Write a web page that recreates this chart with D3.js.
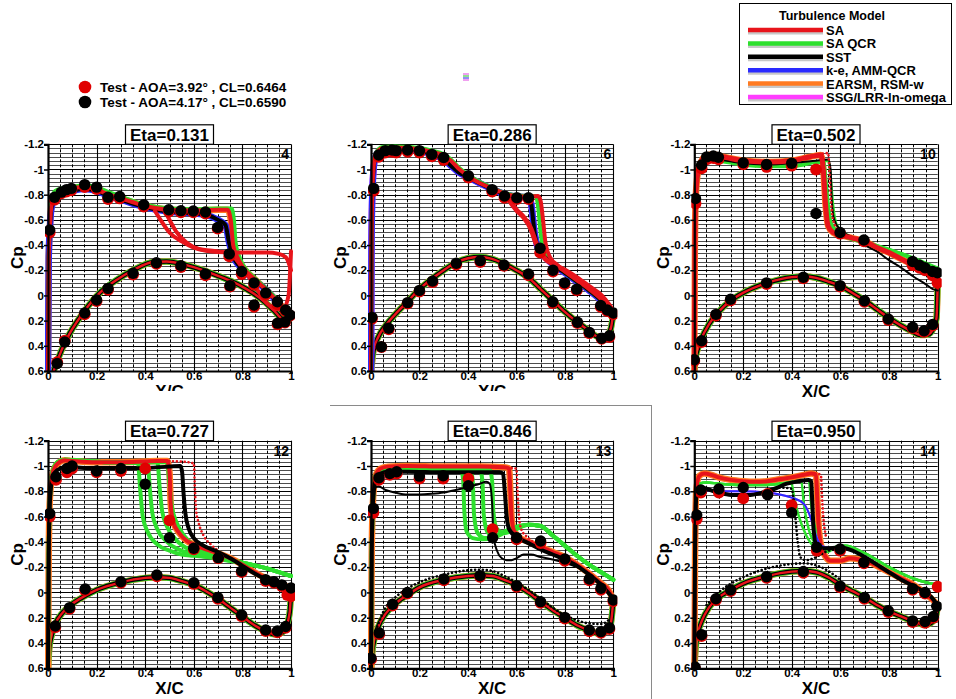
<!DOCTYPE html>
<html>
<head>
<meta charset="utf-8">
<script src="https://cdn.jsdelivr.net/npm/d3@7"></script>
<style>
  body { margin: 0; background: #fff; }
  text { font-family: "Liberation Sans", Arial, sans-serif; font-weight: bold; }
</style>
</head>
<body>
<div id="chart"></div>
<script>
// ---- labels ----
var etaLabels = ["Eta=0.131", "Eta=0.286", "Eta=0.502", "Eta=0.727", "Eta=0.846", "Eta=0.950"];
var stationLabels = ["4", "6", "10", "12", "13", "14"];
var cpTicks = [-1.2, -1, -0.8, -0.6, -0.4, -0.2, 0, 0.2, 0.4, 0.6];
var cpTickLabels = ["-1.2", "-1", "-0.8", "-0.6", "-0.4", "-0.2", "0", "0.2", "0.4", "0.6"];
var xcTicks = [0, 0.2, 0.4, 0.6, 0.8, 1];
var xcTickLabels = ["0", "0.2", "0.4", "0.6", "0.8", "1"];
var modelNames = ["SA", "SA QCR", "SST", "k-e, AMM-QCR", "EARSM, RSM-w", "SSG/LRR-ln-omega"];
var testNames = ["Test - AOA=3.92\u00b0 , CL=0.6464", "Test - AOA=4.17\u00b0 , CL=0.6590"];

// ---- Eta=0.131 ----
var p1_SA_up = [[0,0.6],[0.003,-0.3],[0.008,-0.55],[0.015,-0.72],[0.03,-0.79],[0.06,-0.83],[0.1,-0.85],[0.15,-0.86],[0.2,-0.84],[0.25,-0.8],[0.3,-0.77],[0.35,-0.74],[0.4,-0.71],[0.5,-0.68],[0.6,-0.675],[0.7,-0.68],[0.74,-0.68],[0.752,-0.6],[0.762,-0.4],[0.78,-0.3],[0.8,-0.23],[0.85,-0.13],[0.9,-0.04],[0.95,0.06],[0.98,0.12],[1,0.16]];
var p1_QCR_up = [[0,0.6],[0.003,-0.3],[0.008,-0.58],[0.015,-0.76],[0.03,-0.83],[0.06,-0.85],[0.1,-0.86],[0.15,-0.875],[0.2,-0.86],[0.25,-0.82],[0.3,-0.785],[0.4,-0.72],[0.5,-0.69],[0.6,-0.685],[0.7,-0.69],[0.755,-0.69],[0.765,-0.6],[0.772,-0.42],[0.785,-0.32],[0.8,-0.25],[0.85,-0.14],[0.9,-0.05],[0.95,0.05],[0.98,0.12],[1,0.17]];
var p1_SST_up = [[0,0.6],[0.003,-0.3],[0.008,-0.54],[0.015,-0.7],[0.03,-0.77],[0.06,-0.81],[0.1,-0.83],[0.15,-0.845],[0.2,-0.83],[0.25,-0.79],[0.3,-0.76],[0.4,-0.7],[0.5,-0.665],[0.6,-0.65],[0.65,-0.64],[0.7,-0.6],[0.73,-0.56],[0.745,-0.42],[0.76,-0.32],[0.8,-0.21],[0.85,-0.12],[0.9,-0.04],[0.95,0.07],[0.98,0.14],[1,0.16]];
var p1_SA_sep1 = [[0.44,-0.67],[0.47,-0.58],[0.5,-0.5],[0.55,-0.43],[0.6,-0.38],[0.65,-0.355],[0.7,-0.345],[0.8,-0.34],[0.9,-0.34],[0.95,-0.33],[0.98,-0.3],[1.0,-0.2]];
var p1_SA_sep2 = [[0.48,-0.67],[0.5,-0.6],[0.53,-0.5],[0.57,-0.42],[0.62,-0.37],[0.7,-0.35],[0.75,-0.33],[0.8,-0.22],[0.85,-0.08],[0.9,0.06],[0.94,0.11],[0.97,0.1],[0.99,0.0],[1.0,-0.35]];
var p1_lower = [[0.015,0.65],[0.04,0.51],[0.076,0.35],[0.144,0.14],[0.213,-0.02],[0.28,-0.12],[0.35,-0.2],[0.433,-0.265],[0.488,-0.27],[0.57,-0.24],[0.694,-0.16],[0.79,-0.08],[0.872,0.02],[0.93,0.12],[0.965,0.19],[0.985,0.2],[1.0,0.15]];
var p1_test417 = [[0.007,-0.52],[0.027,-0.78],[0.055,-0.82],[0.076,-0.84],[0.096,-0.85],[0.151,-0.88],[0.2,-0.86],[0.247,-0.78],[0.295,-0.785],[0.394,-0.72],[0.497,-0.68],[0.547,-0.673],[0.598,-0.67],[0.648,-0.663],[0.698,-0.54],[0.746,-0.33],[0.797,-0.19],[0.848,-0.1],[0.896,-0.02],[0.944,0.05],[0.978,0.115],[0.996,0.155],
  [0.038,0.54],[0.069,0.37],[0.151,0.14],[0.2,0.036],[0.247,-0.056],[0.35,-0.176],[0.446,-0.26],[0.547,-0.236],[0.648,-0.17],[0.749,-0.078],[0.848,0.076],[0.945,0.22],[0.975,0.21]];
var p1_test392 = [[0.007,-0.5],[0.027,-0.76],[0.055,-0.81],[0.076,-0.825],[0.096,-0.835],[0.151,-0.86],[0.2,-0.845],[0.247,-0.765],[0.295,-0.77],[0.394,-0.705],[0.497,-0.665],[0.547,-0.66],[0.598,-0.66],[0.648,-0.65],[0.698,-0.53],[0.746,-0.31],[0.797,-0.17],[0.848,-0.085],[0.896,-0.005],[0.944,0.07],[0.978,0.125],[0.996,0.16],
  [0.038,0.53],[0.069,0.36],[0.151,0.15],[0.2,0.045],[0.247,-0.045],[0.35,-0.165],[0.446,-0.25],[0.547,-0.225],[0.648,-0.16],[0.749,-0.07],[0.848,0.09],[0.945,0.23],[0.975,0.215]];

// ---- Eta=0.286 ----
var p2_SA_up = [[0,0.6],[0.002,-0.4],[0.006,-0.85],[0.015,-1.08],[0.03,-1.15],[0.05,-1.17],[0.1,-1.175],[0.15,-1.17],[0.2,-1.16],[0.25,-1.14],[0.3,-1.11],[0.33,-1.07],[0.36,-1.01],[0.4,-0.95],[0.45,-0.89],[0.5,-0.85],[0.55,-0.81],[0.6,-0.79],[0.65,-0.785],[0.69,-0.79],[0.7,-0.75],[0.71,-0.6],[0.72,-0.42],[0.74,-0.3],[0.77,-0.24],[0.8,-0.19],[0.85,-0.12],[0.9,-0.05],[0.95,0.03],[0.98,0.09],[1.0,0.14]];
var p2_SA_sep = [[0.56,-0.79],[0.58,-0.73],[0.6,-0.68],[0.63,-0.62],[0.66,-0.53],[0.68,-0.42],[0.7,-0.34],[0.72,-0.29],[0.75,-0.25],[0.8,-0.2],[0.85,-0.14],[0.9,-0.07],[0.95,0.0],[0.98,0.07],[1.0,0.13]];
var p2_QCR_up = [[0,0.6],[0.002,-0.4],[0.006,-0.87],[0.015,-1.1],[0.03,-1.16],[0.05,-1.18],[0.1,-1.185],[0.15,-1.18],[0.2,-1.17],[0.25,-1.15],[0.3,-1.12],[0.33,-1.08],[0.36,-1.02],[0.4,-0.96],[0.45,-0.9],[0.5,-0.855],[0.55,-0.815],[0.6,-0.795],[0.65,-0.79],[0.68,-0.79],[0.69,-0.7],[0.7,-0.5],[0.71,-0.38],[0.73,-0.3],[0.77,-0.23],[0.8,-0.18],[0.85,-0.11],[0.9,-0.04],[0.95,0.04],[0.98,0.1],[1.0,0.15]];
var p2_SST_up = [[0,0.6],[0.002,-0.4],[0.006,-0.84],[0.015,-1.07],[0.03,-1.14],[0.05,-1.16],[0.1,-1.165],[0.15,-1.16],[0.2,-1.15],[0.25,-1.12],[0.3,-1.08],[0.33,-1.03],[0.36,-0.98],[0.4,-0.94],[0.45,-0.89],[0.5,-0.845],[0.55,-0.805],[0.6,-0.785],[0.65,-0.78],[0.66,-0.74],[0.675,-0.5],[0.69,-0.37],[0.72,-0.3],[0.76,-0.23],[0.8,-0.18],[0.85,-0.11],[0.9,-0.04],[0.95,0.04],[0.98,0.1],[1.0,0.14]];
var p2_lower = [[0,0.62],[0.01,0.44],[0.03,0.33],[0.06,0.24],[0.1,0.15],[0.15,0.05],[0.2,-0.05],[0.25,-0.13],[0.3,-0.2],[0.35,-0.26],[0.4,-0.295],[0.45,-0.305],[0.5,-0.29],[0.55,-0.25],[0.6,-0.2],[0.65,-0.14],[0.7,-0.05],[0.75,0.04],[0.8,0.13],[0.85,0.21],[0.9,0.28],[0.94,0.33],[0.97,0.33],[0.99,0.26],[1.0,0.14]];
var p2_test417 = [[0.011,-0.85],[0.032,-1.115],[0.059,-1.15],[0.087,-1.155],[0.104,-1.15],[0.151,-1.155],[0.2,-1.15],[0.251,-1.12],[0.3,-1.095],[0.402,-0.95],[0.5,-0.84],[0.551,-0.79],[0.602,-0.776],[0.65,-0.776],[0.698,-0.375],[0.751,-0.2],[0.799,-0.1],[0.849,-0.05],[0.948,0.08],[0.975,0.116],[1.0,0.14],
  [0.004,0.174],[0.043,0.407],[0.073,0.26],[0.151,0.057],[0.2,-0.04],[0.254,-0.114],[0.352,-0.255],[0.451,-0.276],[0.549,-0.242],[0.65,-0.17],[0.75,0.05],[0.852,0.213],[0.901,0.293],[0.952,0.34],[0.984,0.32]];
var p2_test392 = [[0.011,-0.83],[0.032,-1.1],[0.059,-1.135],[0.087,-1.14],[0.104,-1.135],[0.151,-1.14],[0.2,-1.135],[0.251,-1.105],[0.3,-1.075],[0.402,-0.935],[0.5,-0.825],[0.551,-0.775],[0.602,-0.765],[0.65,-0.765],[0.698,-0.34],[0.751,-0.19],[0.799,-0.09],[0.849,-0.04],[0.948,0.09],[0.975,0.125],[1.0,0.15],
  [0.004,0.185],[0.043,0.41],[0.073,0.27],[0.151,0.065],[0.2,-0.03],[0.254,-0.105],[0.352,-0.245],[0.451,-0.265],[0.549,-0.235],[0.65,-0.16],[0.75,0.06],[0.852,0.22],[0.901,0.3],[0.952,0.345],[0.984,0.33]];

// ---- Eta=0.502 ----
var p3_SA_up = [[0,0.6],[0.002,-0.3],[0.006,-0.78],[0.015,-0.98],[0.03,-1.07],[0.05,-1.11],[0.08,-1.12],[0.12,-1.1],[0.2,-1.07],[0.3,-1.06],[0.4,-1.07],[0.45,-1.09],[0.5,-1.11],[0.52,-1.115],[0.53,-1.0],[0.54,-0.7],[0.55,-0.55],[0.57,-0.5],[0.6,-0.48],[0.65,-0.455],[0.7,-0.43],[0.75,-0.38],[0.8,-0.34],[0.85,-0.29],[0.9,-0.24],[0.95,-0.19],[0.98,-0.15],[1.0,-0.1]];
var p3_SA2_up = [[0.45,-1.09],[0.5,-1.115],[0.55,-1.13],[0.555,-1.0],[0.56,-0.8],[0.57,-0.6],[0.6,-0.5]];
var p3_QCR_up = [[0,0.6],[0.002,-0.3],[0.006,-0.76],[0.015,-0.96],[0.03,-1.04],[0.05,-1.08],[0.1,-1.07],[0.2,-1.04],[0.3,-1.025],[0.4,-1.025],[0.45,-1.04],[0.5,-1.06],[0.53,-1.06],[0.54,-0.9],[0.55,-0.7],[0.56,-0.58],[0.58,-0.52],[0.62,-0.47],[0.7,-0.42],[0.8,-0.36],[0.85,-0.33],[0.9,-0.29],[0.95,-0.25],[1.0,-0.2]];
var p3_QCR2_up = [[0.45,-1.04],[0.5,-1.06],[0.55,-1.07],[0.56,-0.95],[0.57,-0.72],[0.585,-0.56],[0.62,-0.49],[0.7,-0.43],[0.8,-0.37],[0.9,-0.3],[1.0,-0.22]];
var p3_SST_up = [[0,0.6],[0.003,-0.5],[0.01,-0.9],[0.03,-1.05],[0.05,-1.09],[0.1,-1.08],[0.2,-1.05],[0.3,-1.04],[0.4,-1.05],[0.5,-1.07],[0.55,-1.08],[0.56,-1.0],[0.565,-0.75],[0.575,-0.6],[0.6,-0.52],[0.65,-0.46],[0.7,-0.4],[0.75,-0.35],[0.8,-0.28],[0.85,-0.22],[0.9,-0.15],[0.95,-0.09],[0.98,-0.05],[1.0,-0.04]];
var p3_lower = [[0,0.62],[0.005,0.5],[0.015,0.42],[0.03,0.34],[0.06,0.23],[0.1,0.13],[0.15,0.04],[0.2,-0.02],[0.3,-0.1],[0.4,-0.145],[0.45,-0.15],[0.5,-0.14],[0.55,-0.11],[0.6,-0.075],[0.65,-0.02],[0.7,0.04],[0.75,0.11],[0.8,0.18],[0.85,0.24],[0.9,0.29],[0.93,0.315],[0.96,0.31],[0.98,0.27],[0.995,0.18],[1.0,-0.1]];
var p3_test417 = [[0.005,-0.77],[0.03,-1.036],[0.051,-1.1],[0.078,-1.107],[0.099,-1.097],[0.201,-1.054],[0.297,-1.04],[0.4,-1.05],[0.5,-0.65],[0.599,-0.5],[0.697,-0.44],[0.897,-0.27],[0.925,-0.24],[0.948,-0.22],[0.979,-0.19],[0.999,-0.18],
  [0.0,0.51],[0.03,0.36],[0.089,0.15],[0.149,0.03],[0.297,-0.1],[0.448,-0.144],[0.599,-0.078],[0.699,0.042],[0.797,0.187],[0.897,0.253],[0.944,0.28],[0.979,0.23]];
var p3_test392 = [[0.005,-0.73],[0.03,-1.01],[0.051,-1.08],[0.078,-1.09],[0.099,-1.08],[0.201,-1.04],[0.297,-1.02],[0.4,-1.03],[0.5,-1.0],[0.599,-0.49],[0.697,-0.43],[0.897,-0.24],[0.925,-0.22],[0.948,-0.2],[0.979,-0.16],[0.999,-0.1],
  [0.0,0.52],[0.03,0.37],[0.089,0.16],[0.149,0.04],[0.297,-0.09],[0.448,-0.135],[0.599,-0.07],[0.699,0.05],[0.797,0.195],[0.897,0.26],[0.944,0.29],[0.979,0.24]];

// ---- Eta=0.727 ----
var p4_SA_up = [[0,0.6],[0.003,-0.3],[0.008,-0.75],[0.02,-0.95],[0.04,-1.02],[0.07,-1.045],[0.1,-1.04],[0.2,-1.03],[0.3,-1.03],[0.4,-1.035],[0.45,-1.04],[0.49,-1.04],[0.5,-0.95],[0.505,-0.7],[0.515,-0.56],[0.54,-0.47],[0.57,-0.41],[0.6,-0.38],[0.65,-0.34],[0.7,-0.31],[0.75,-0.27],[0.8,-0.22],[0.85,-0.16],[0.9,-0.11],[0.95,-0.07],[0.98,-0.05],[1.0,-0.03]];
var p4_SA2_up = [[0.45,-1.04],[0.55,-1.035],[0.6,-1.02],[0.605,-0.8],[0.61,-0.64],[0.62,-0.55],[0.64,-0.45],[0.67,-0.38],[0.7,-0.33]];
var p4_QCR_front = [[0,0.6],[0.003,-0.3],[0.008,-0.75],[0.02,-0.96],[0.04,-1.03],[0.07,-1.05],[0.15,-1.04],[0.25,-1.03],[0.33,-1.03]];
var p4_QCR_mid1 = [[0.37,-1.02],[0.38,-0.8],[0.39,-0.6],[0.41,-0.48],[0.45,-0.38],[0.5,-0.33],[0.55,-0.3],[0.6,-0.29]];
var p4_QCR_mid2 = [[0.41,-1.02],[0.42,-0.8],[0.43,-0.62],[0.45,-0.5],[0.49,-0.4],[0.55,-0.33],[0.6,-0.3]];
var p4_QCR_mid3 = [[0.45,-1.03],[0.46,-0.82],[0.47,-0.64],[0.49,-0.52],[0.53,-0.41],[0.58,-0.34],[0.62,-0.31]];
var p4_QCR_mid4 = [[0.49,-1.03],[0.5,-0.85],[0.51,-0.68],[0.53,-0.55],[0.56,-0.45],[0.6,-0.37],[0.64,-0.32]];
var p4_QCR_rear = [[0.7,-0.27],[0.8,-0.235],[0.9,-0.19],[0.95,-0.16],[1.0,-0.13]];
var p4_SST_up = [[0,0.6],[0.003,-0.3],[0.008,-0.72],[0.02,-0.92],[0.04,-0.97],[0.07,-0.99],[0.1,-0.99],[0.2,-0.98],[0.3,-0.98],[0.4,-0.985],[0.5,-0.995],[0.545,-1.0],[0.552,-0.95],[0.558,-0.78],[0.565,-0.63],[0.58,-0.5],[0.6,-0.43],[0.64,-0.37],[0.7,-0.32],[0.75,-0.27],[0.8,-0.21],[0.85,-0.15],[0.9,-0.1],[0.95,-0.06],[1.0,-0.04]];
var p4_lower = [[0,0.62],[0.005,0.45],[0.015,0.34],[0.03,0.25],[0.06,0.16],[0.1,0.09],[0.15,0.03],[0.2,-0.02],[0.3,-0.08],[0.4,-0.115],[0.45,-0.12],[0.5,-0.115],[0.55,-0.09],[0.6,-0.06],[0.65,-0.01],[0.7,0.05],[0.75,0.12],[0.8,0.19],[0.85,0.26],[0.9,0.31],[0.93,0.33],[0.96,0.32],[0.98,0.27],[0.995,0.15],[1.0,0.0]];
var p4_test417 = [[0.007,-0.625],[0.033,-0.915],[0.078,-0.98],[0.099,-1.0],[0.2,-0.96],[0.3,-0.98],[0.4,-0.855],[0.5,-0.433],[0.6,-0.35],[0.701,-0.275],[0.797,-0.17],[0.896,-0.1],[0.93,-0.085],[0.962,-0.06],[1.0,-0.035],
  [0.03,0.265],[0.089,0.12],[0.153,-0.027],[0.3,-0.085],[0.448,-0.138],[0.6,-0.077],[0.699,0.04],[0.797,0.178],[0.896,0.297],[0.944,0.305],[0.978,0.27]];
var p4_test392 = [[0.007,-0.6],[0.033,-0.89],[0.078,-0.95],[0.099,-0.98],[0.2,-0.95],[0.3,-0.96],[0.4,-0.98],[0.5,-0.57],[0.6,-0.34],[0.701,-0.27],[0.797,-0.16],[0.896,-0.09],[0.93,-0.075],[0.962,-0.05],[0.985,0.02],[1.0,0.03],
  [0.03,0.275],[0.089,0.13],[0.153,-0.017],[0.3,-0.075],[0.448,-0.128],[0.6,-0.067],[0.699,0.05],[0.797,0.188],[0.896,0.305],[0.944,0.315],[0.978,0.28]];

// ---- Eta=0.846 ----
var p5_SA_up = [[0,0.6],[0.003,-0.3],[0.008,-0.72],[0.02,-0.93],[0.04,-0.98],[0.07,-0.995],[0.15,-1.0],[0.3,-0.995],[0.45,-0.995],[0.55,-0.99],[0.57,-0.98],[0.575,-0.8],[0.58,-0.6],[0.59,-0.49],[0.61,-0.44],[0.65,-0.4],[0.7,-0.36],[0.75,-0.32],[0.8,-0.28],[0.85,-0.22],[0.9,-0.15],[0.95,-0.07],[0.98,-0.02],[1.0,0.06]];
var p5_SA2_up = [[0.5,-0.99],[0.6,-0.98],[0.605,-0.8],[0.61,-0.62],[0.62,-0.5],[0.65,-0.43],[0.7,-0.37]];
var p5_QCR_front = [[0,0.6],[0.003,-0.3],[0.008,-0.72],[0.02,-0.93],[0.04,-0.97],[0.07,-0.98],[0.15,-0.98],[0.25,-0.975],[0.33,-0.97]];
var p5_QCR_mid1 = [[0.37,-0.97],[0.38,-0.9],[0.385,-0.65],[0.395,-0.48],[0.42,-0.43],[0.46,-0.42],[0.5,-0.43],[0.55,-0.48],[0.6,-0.52]];
var p5_QCR_mid2 = [[0.41,-0.97],[0.42,-0.88],[0.425,-0.62],[0.44,-0.47],[0.47,-0.43],[0.5,-0.435],[0.55,-0.48],[0.6,-0.515]];
var p5_QCR_mid3 = [[0.45,-0.97],[0.46,-0.88],[0.465,-0.62],[0.48,-0.48],[0.51,-0.44],[0.55,-0.47],[0.6,-0.51]];
var p5_QCR_mid4 = [[0.49,-0.97],[0.5,-0.88],[0.505,-0.64],[0.52,-0.5],[0.55,-0.47],[0.6,-0.5]];
var p5_QCR_rear = [[0.65,-0.535],[0.7,-0.525],[0.75,-0.45],[0.8,-0.37],[0.85,-0.29],[0.9,-0.22],[0.95,-0.16],[1.0,-0.1]];
var p5_SST_up = [[0,0.6],[0.003,-0.3],[0.008,-0.7],[0.02,-0.9],[0.04,-0.94],[0.07,-0.955],[0.15,-0.955],[0.3,-0.95],[0.45,-0.95],[0.53,-0.95],[0.545,-0.94],[0.552,-0.8],[0.56,-0.6],[0.57,-0.5],[0.6,-0.44],[0.65,-0.39],[0.7,-0.34],[0.75,-0.3],[0.8,-0.26],[0.85,-0.21],[0.9,-0.14],[0.95,-0.06],[1.0,0.05]];
var p5_SST2_up = [[0.005,-0.6],[0.015,-0.82],[0.03,-0.84],[0.06,-0.81],[0.1,-0.79],[0.15,-0.775],[0.2,-0.775],[0.25,-0.78],[0.3,-0.79],[0.35,-0.81],[0.4,-0.835],[0.45,-0.86],[0.475,-0.875],[0.49,-0.86],[0.5,-0.7],[0.505,-0.45],[0.52,-0.33],[0.54,-0.27],[0.56,-0.255],[0.58,-0.255],[0.6,-0.27],[0.63,-0.3],[0.66,-0.3],[0.7,-0.28],[0.75,-0.26],[0.8,-0.235],[0.85,-0.2],[0.9,-0.15]];
var p5_SST2_low = [[0.02,0.3],[0.06,0.12],[0.1,0.04],[0.2,-0.08],[0.3,-0.14],[0.4,-0.175],[0.45,-0.18],[0.5,-0.17],[0.55,-0.13],[0.6,-0.08],[0.65,-0.02],[0.7,0.05],[0.75,0.12],[0.8,0.18],[0.85,0.22],[0.9,0.245],[0.95,0.25],[0.98,0.22]];
var p5_lower = [[0,0.62],[0.005,0.48],[0.015,0.36],[0.03,0.27],[0.06,0.17],[0.1,0.09],[0.15,0.02],[0.2,-0.04],[0.3,-0.1],[0.4,-0.13],[0.45,-0.135],[0.5,-0.13],[0.55,-0.1],[0.6,-0.06],[0.65,0.0],[0.7,0.07],[0.75,0.14],[0.8,0.2],[0.85,0.26],[0.9,0.3],[0.94,0.325],[0.97,0.31],[0.99,0.24],[1.0,0.06]];
var p5_test417 = [[0.01,-0.665],[0.033,-0.907],[0.078,-0.94],[0.106,-0.955],[0.2,-0.92],[0.298,-0.923],[0.402,-0.844],[0.502,-0.433],[0.601,-0.433],[0.7,-0.407],[0.8,-0.264],[0.901,-0.106],[0.949,-0.033],[1.0,0.06],
  [0.0,0.52],[0.034,0.32],[0.089,0.094],[0.15,0.0],[0.301,-0.106],[0.45,-0.133],[0.601,-0.054],[0.7,0.073],[0.8,0.197],[0.901,0.297],[0.949,0.31],[0.984,0.279]];
var p5_test392 = [[0.01,-0.63],[0.033,-0.89],[0.078,-0.93],[0.106,-0.94],[0.2,-0.9],[0.298,-0.9],[0.402,-0.9],[0.502,-0.5],[0.601,-0.42],[0.7,-0.39],[0.8,-0.25],[0.901,-0.095],[0.949,-0.02],[1.0,0.07],
  [0.0,0.53],[0.034,0.33],[0.089,0.104],[0.15,0.01],[0.301,-0.096],[0.45,-0.123],[0.601,-0.044],[0.7,0.083],[0.8,0.207],[0.901,0.307],[0.949,0.32],[0.984,0.289]];

// ---- Eta=0.950 ----
var p6_SA_up = [[0,0.6],[0.003,-0.3],[0.008,-0.8],[0.02,-0.92],[0.04,-0.94],[0.07,-0.93],[0.1,-0.91],[0.15,-0.89],[0.2,-0.88],[0.25,-0.875],[0.3,-0.88],[0.35,-0.895],[0.4,-0.91],[0.45,-0.93],[0.48,-0.94],[0.5,-0.93],[0.505,-0.75],[0.51,-0.55],[0.52,-0.38],[0.54,-0.28],[0.56,-0.25],[0.6,-0.25],[0.64,-0.27],[0.68,-0.26],[0.72,-0.24],[0.76,-0.2],[0.8,-0.16],[0.85,-0.11],[0.9,-0.06],[0.95,0.01],[0.98,0.06],[1.0,0.1]];
var p6_SA2_up = [[0.45,-0.93],[0.5,-0.94],[0.52,-0.93],[0.525,-0.75],[0.53,-0.6],[0.54,-0.45]];
var p6_QCR_front = [[0,0.6],[0.003,-0.3],[0.008,-0.78],[0.02,-0.86],[0.05,-0.87],[0.1,-0.86],[0.2,-0.85],[0.3,-0.85],[0.35,-0.86]];
var p6_QCR_mid1 = [[0.4,-0.86],[0.41,-0.75],[0.43,-0.6],[0.46,-0.45],[0.5,-0.35],[0.55,-0.32]];
var p6_QCR_mid2 = [[0.44,-0.88],[0.45,-0.7],[0.47,-0.5],[0.5,-0.38],[0.54,-0.33]];
var p6_QCR_mid3 = [[0.47,-0.89],[0.48,-0.7],[0.5,-0.48],[0.52,-0.38],[0.55,-0.34]];
var p6_QCR_rear = [[0.58,-0.36],[0.62,-0.37],[0.7,-0.31],[0.8,-0.2],[0.9,-0.11],[0.95,-0.08],[1.0,-0.06]];
var p6_SST_up = [[0,0.6],[0.003,-0.3],[0.008,-0.75],[0.02,-0.83],[0.05,-0.82],[0.08,-0.8],[0.12,-0.78],[0.16,-0.77],[0.22,-0.77],[0.28,-0.79],[0.33,-0.82],[0.38,-0.86],[0.43,-0.88],[0.47,-0.89],[0.48,-0.88],[0.485,-0.7],[0.49,-0.5],[0.5,-0.38],[0.52,-0.35],[0.56,-0.35],[0.6,-0.355],[0.65,-0.33],[0.7,-0.28],[0.75,-0.22],[0.8,-0.16],[0.85,-0.1],[0.9,-0.05],[0.95,0.0],[0.98,0.05],[1.0,0.11]];
var p6_SST2_up = [[0.35,-0.83],[0.4,-0.82],[0.415,-0.6],[0.425,-0.4],[0.435,-0.28],[0.46,-0.255],[0.49,-0.27],[0.52,-0.3],[0.55,-0.33],[0.6,-0.34]];
var p6_SST2_low = [[0.05,0.1],[0.1,0.0],[0.2,-0.12],[0.3,-0.19],[0.4,-0.225],[0.45,-0.23],[0.5,-0.215],[0.55,-0.17],[0.6,-0.1]];
var p6_KE_up = [[0,0.6],[0.003,-0.3],[0.008,-0.75],[0.02,-0.82],[0.05,-0.81],[0.1,-0.8],[0.2,-0.8],[0.3,-0.79],[0.35,-0.775],[0.4,-0.75],[0.45,-0.7],[0.48,-0.58],[0.5,-0.45],[0.52,-0.37],[0.56,-0.35],[0.6,-0.35],[0.65,-0.33],[0.7,-0.285],[0.75,-0.225],[0.8,-0.165],[0.85,-0.105],[0.9,-0.05],[0.95,0.0],[1.0,0.1]];
var p6_lower = [[0,0.62],[0.005,0.45],[0.015,0.32],[0.03,0.23],[0.06,0.12],[0.1,0.04],[0.15,-0.02],[0.2,-0.07],[0.3,-0.13],[0.4,-0.165],[0.45,-0.17],[0.5,-0.16],[0.55,-0.12],[0.6,-0.06],[0.65,-0.01],[0.7,0.04],[0.75,0.1],[0.8,0.15],[0.85,0.19],[0.9,0.23],[0.95,0.255],[0.98,0.23],[0.995,0.17],[1.0,0.11]];
var p6_test417 = [[0.01,-0.612],[0.027,-0.81],[0.101,-0.818],[0.201,-0.83],[0.301,-0.773],[0.4,-0.63],[0.503,-0.357],[0.599,-0.343],[0.697,-0.238],[0.897,-0.03],[0.948,0.0],[0.996,0.11],
  [0.003,0.59],[0.03,0.335],[0.089,0.05],[0.149,-0.02],[0.297,-0.125],[0.448,-0.165],[0.599,-0.05],[0.699,0.04],[0.797,0.145],[0.897,0.225],[0.948,0.23],[0.982,0.19]];
var p6_test392 = [[0.01,-0.58],[0.027,-0.79],[0.101,-0.79],[0.201,-0.745],[0.301,-0.78],[0.4,-0.69],[0.503,-0.33],[0.599,-0.33],[0.697,-0.23],[0.897,-0.02],[0.948,0.01],[1.0,-0.045],
  [0.003,0.6],[0.03,0.345],[0.089,0.06],[0.149,-0.01],[0.297,-0.115],[0.448,-0.155],[0.599,-0.04],[0.699,0.05],[0.797,0.155],[0.897,0.235],[0.948,0.24],[0.982,0.2]];

// colours per model
var modelColors = ["#e8141b", "#2ee02e", "#000000", "#2b2bff", "#ff7b22", "#ff3dff"];

// curve lists per panel: [model index, data, style]
var panelCurves = [
  [[4, p1_SA_up, "w"], [3, p1_SST_up, "w"], [1, p1_QCR_up, "t"], [2, p1_SST_up, "t"], [0, p1_SA_sep1, "t"], [0, p1_SA_sep2, "t"], [0, p1_SA_up, "t"]],
  [[5, p2_SST_up, "w"], [3, p2_SST_up, "w"], [1, p2_QCR_up, "t"], [2, p2_SST_up, "t"], [0, p2_SA_sep, "b"], [0, p2_SA_up, "t"]],
  [[4, p3_SA_up, "w"], [1, p3_QCR_up, "t"], [1, p3_QCR2_up, "m"], [2, p3_SST_up, "s"], [0, p3_SA_up, "b"], [0, p3_SA2_up, "d"]],
  [[4, p4_SA_up, "w"], [1, p4_QCR_front.concat(p4_QCR_mid1, p4_QCR_rear), "t"], [1, p4_QCR_front.concat(p4_QCR_mid2, p4_QCR_rear), "t"],
   [1, p4_QCR_front.concat(p4_QCR_mid3, p4_QCR_rear), "t"], [1, p4_QCR_front.concat(p4_QCR_mid4, p4_QCR_rear), "t"],
   [0, p4_SA_up, "t"], [0, p4_SA2_up, "d"], [2, p4_SST_up, "t"]],
  [[4, p5_SA_up, "w"], [1, p5_QCR_front.concat(p5_QCR_mid1, p5_QCR_rear), "t"], [1, p5_QCR_front.concat(p5_QCR_mid2, p5_QCR_rear), "t"],
   [1, p5_QCR_front.concat(p5_QCR_mid3, p5_QCR_rear), "t"], [1, p5_QCR_front.concat(p5_QCR_mid4, p5_QCR_rear), "t"],
   [0, p5_SA_up, "t"], [0, p5_SA2_up, "d"], [2, p5_SST_up, "t"], [2, p5_SST2_up, "s"], [2, p5_SST2_low, "d"]],
  [[4, p6_SA_up, "w"], [1, p6_QCR_front.concat(p6_QCR_mid1, p6_QCR_rear), "m"], [1, p6_QCR_front.concat(p6_QCR_mid2, p6_QCR_rear), "m"],
   [1, p6_QCR_front.concat(p6_QCR_mid3, p6_QCR_rear), "m"], [0, p6_SA_up, "t"], [0, p6_SA2_up, "d"], [5, p6_KE_up, "s"], [3, p6_KE_up, "s"],
   [2, p6_SST_up, "t"], [2, p6_SST2_up, "d"], [2, p6_SST2_low, "d"]]
];
var panelLower = [p1_lower, p2_lower, p3_lower, p4_lower, p5_lower, p6_lower];
var panelTest392 = [p1_test392, p2_test392, p3_test392, p4_test392, p5_test392, p6_test392];
var panelTest417 = [p1_test417, p2_test417, p3_test417, p4_test417, p5_test417, p6_test417];

// ---- layout ----
var W = 956, H = 699;
var colL = [48, 371, 694.3], colR = [291, 613.3, 937.7];
var rowT = [144.3, 440.7], rowB = [371, 668.3];

var svg = d3.select("#chart").append("svg")
  .attr("width", W).attr("height", H)
  .style("display", "block");
svg.append("rect").attr("width", W).attr("height", H).attr("fill", "#fff");

// thin gray frame around the lower-middle tile
svg.append("line").attr("x1", 330).attr("x2", 652).attr("y1", 405.5).attr("y2", 405.5).attr("stroke", "#8a8a8a").attr("stroke-width", 1);
svg.append("line").attr("x1", 651.5).attr("x2", 651.5).attr("y1", 405).attr("y2", 699).attr("stroke", "#8a8a8a").attr("stroke-width", 1);

var strokeW = { w: 6.5, t: 4, b: 5, m: 2.5, s: 2, d: 2.6 };

for (var p = 0; p < 6; p++) {
  var col = p % 3, row = Math.floor(p / 3);
  var L = colL[col], R = colR[col], T = rowT[row], B = rowB[row];
  var x = d3.scaleLinear().domain([0, 1]).range([L, R]);
  var y = d3.scaleLinear().domain([-1.2, 0.6]).range([T, B]);
  var g = svg.append("g");

  // grid: horizontal lines, minor every 1/6 of a major step
  var hLines = d3.range(0, 55).map(function(i) { return -1.2 + i * 0.2 / 6; });
  g.selectAll(".hmin").data(hLines).enter().append("line")
    .attr("x1", L).attr("x2", R)
    .attr("y1", function(d) { return Math.round(y(d)) + 0.5; })
    .attr("y2", function(d) { return Math.round(y(d)) + 0.5; })
    .attr("stroke", function(d, i) { return i % 6 === 0 ? "#000" : "#2e2e2e"; })
    .attr("stroke-width", function(d, i) { return i % 6 === 0 ? 1.2 : 0.85; });
  // grid: vertical lines every 0.05, solid on 0.2
  var vLines = d3.range(1, 21).map(function(i) { return i * 0.05; });
  g.selectAll(".v").data(vLines).enter().append("line")
    .attr("x1", function(d) { return Math.round(x(d)) + 0.5; })
    .attr("x2", function(d) { return Math.round(x(d)) + 0.5; })
    .attr("y1", T).attr("y2", B)
    .attr("stroke", "#000")
    .attr("stroke-width", function(d, i) { return (i + 1) % 4 === 0 ? 1.1 : 1; })
    .attr("stroke-dasharray", function(d, i) { return (i + 1) % 4 === 0 ? null : "3,2"; });

  // clip
  var cid = "clip" + p;
  svg.append("clipPath").attr("id", cid).append("rect")
    .attr("x", L - 3).attr("y", T).attr("width", R - L + 7).attr("height", B - T);
  var cg = g.append("g").attr("clip-path", "url(#" + cid + ")");

  var line = d3.line().x(function(d) { return x(d[0]); }).y(function(d) { return y(d[1]); })
    .curve(d3.curveMonotoneX);

  // lower surface, layered model bundle
  var lowerLayers = [[4, 6.5], [1, 6], [2, 4.6], [0, 2.4]];
  lowerLayers.forEach(function(l) {
    cg.append("path").attr("d", line(panelLower[p]))
      .attr("fill", "none").attr("stroke", modelColors[l[0]]).attr("stroke-width", l[1])
      .attr("stroke-linejoin", "round").attr("stroke-linecap", "round");
  });

  // upper surface curves
  panelCurves[p].forEach(function(c) {
    var st = c[2];
    cg.append("path").attr("d", line(c[1]))
      .attr("fill", "none").attr("stroke", modelColors[c[0]])
      .attr("stroke-width", strokeW[st])
      .attr("stroke-dasharray", st === "d" ? "0.1,3.8" : null)
      .attr("stroke-linejoin", "round").attr("stroke-linecap", "round");
  });

  // test data
  cg.selectAll(".t392").data(panelTest392[p]).enter().append("circle")
    .attr("cx", function(d) { return x(d[0]); }).attr("cy", function(d) { return y(d[1]); })
    .attr("r", 5.9).attr("fill", "#e00000");
  cg.selectAll(".t417").data(panelTest417[p]).enter().append("circle")
    .attr("cx", function(d) { return x(d[0]); }).attr("cy", function(d) { return y(d[1]); })
    .attr("r", 5.7).attr("fill", "#000");

  // axes
  var yAxis = d3.axisLeft(y).tickValues(cpTicks).tickSize(4).tickFormat(function(d, i) { return cpTickLabels[i]; });
  var ya = g.append("g").attr("transform", "translate(" + L + ",0)").call(yAxis);
  var xAxis = d3.axisBottom(x).tickValues(xcTicks).tickSize(3).tickFormat(function(d, i) { return xcTickLabels[i]; });
  var xa = g.append("g").attr("transform", "translate(0," + B + ")").call(xAxis);
  [ya, xa].forEach(function(a) {
    a.select(".domain").attr("stroke", "#000").attr("stroke-width", 2.2);
    a.selectAll(".tick line").attr("stroke", "#000").attr("stroke-width", 1.5);
    a.selectAll(".tick text").attr("font-size", 11.5).attr("font-weight", "bold")
      .attr("font-family", "Liberation Sans, Arial, sans-serif").attr("fill", "#000");
  });
  ya.selectAll(".tick text").attr("x", -4);
  xa.selectAll(".tick text").attr("y", 1).attr("dy", "0.71em");

  // Cp label
  g.append("text").attr("transform", "translate(" + (L - 31) + "," + ((T + B) / 2) + ") rotate(-90)")
    .attr("text-anchor", "middle").attr("dy", "0.35em").attr("font-size", 17).text("Cp");
  // X/C label
  g.append("text").attr("x", (L + R) / 2).attr("y", B + 26)
    .attr("text-anchor", "middle").attr("font-size", 17).text("X/C");

  // station number
  g.append("text").attr("x", R - 2).attr("y", T + 15).attr("text-anchor", "end")
    .attr("font-size", 14).text(stationLabels[p]);

  // title box
  var tb = g.append("g");
  tb.append("rect").attr("x", (L + R) / 2 - 44).attr("y", T - 19.5).attr("width", 88).attr("height", 19.5)
    .attr("fill", "#fff").attr("stroke", "#000").attr("stroke-width", 1.2);
  tb.append("text").attr("x", (L + R) / 2).attr("y", T - 3.5).attr("text-anchor", "middle")
    .attr("font-size", 17).text(etaLabels[p]);
}

// top-row tiles are cropped just under the X/C label on the two left panels
svg.append("rect").attr("x", 0).attr("y", 391).attr("width", 640).attr("height", 14).attr("fill", "#fff");

// small thumbnail mark near the top
var thumbColors = ["#f0a0f0", "#90e090", "#9090f0", "#f0a0f0"];
svg.selectAll(".thumb").data(thumbColors).enter().append("rect")
  .attr("x", 463).attr("y", function(d, i) { return 73 + i * 2; })
  .attr("width", 6).attr("height", 2).attr("fill", function(d) { return d; });

// test legend
var testColors = ["#e00000", "#000"];
var tl = svg.append("g");
tl.selectAll("circle").data(testNames).enter().append("circle")
  .attr("cx", 85).attr("cy", function(d, i) { return 87 + i * 15; }).attr("r", 6.3)
  .attr("fill", function(d, i) { return testColors[i]; });
tl.selectAll("text").data(testNames).enter().append("text")
  .attr("x", 100).attr("y", function(d, i) { return 92 + i * 15; })
  .attr("font-size", 13.5).text(function(d) { return d; });

// model legend
var lg = svg.append("g");
lg.append("rect").attr("x", 739.5).attr("y", 3.5).attr("width", 212).attr("height", 101)
  .attr("fill", "#fff").attr("stroke", "#000").attr("stroke-width", 1);
lg.append("text").attr("x", 832).attr("y", 20).attr("text-anchor", "middle").attr("font-size", 12.5).text("Turbulence Model");
modelNames.forEach(function(name, i) {
  var yy = 30 + i * 13.4;
  lg.append("line").attr("x1", 748).attr("x2", 823).attr("y1", yy + 2.5).attr("y2", yy + 2.5)
    .attr("stroke", "#c8c8c8").attr("stroke-width", 4);
  lg.append("line").attr("x1", 748).attr("x2", 823).attr("y1", yy).attr("y2", yy)
    .attr("stroke", modelColors[i]).attr("stroke-width", 4.5);
  lg.append("text").attr("x", 826).attr("y", yy + 5).attr("font-size", 13).text(name);
});
</script>
</body>
</html>
